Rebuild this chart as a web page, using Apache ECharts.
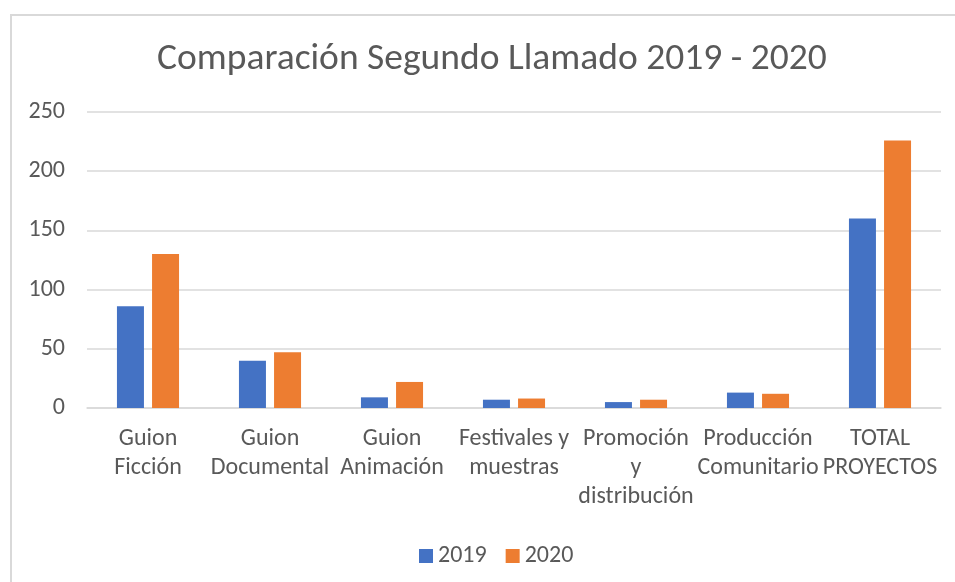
<!DOCTYPE html>
<html>
<head>
<meta charset="utf-8">
<script src="https://cdn.jsdelivr.net/npm/echarts@6/dist/echarts.min.js"></script>
<style>
  html, body { margin: 0; padding: 0; background: #fff; }
  #frame {
    position: absolute; left: 10px; top: 14px; width: 960px; height: 600px;
    border-top: 2px solid #d9d9d9; border-left: 2px solid #d9d9d9;
  }
  #chart { position: absolute; left: 0; top: 0; width: 955px; height: 582px; }
</style>
</head>
<body>
<div id="frame"></div>
<div id="chart"></div>
<script>
    const categories = ['Guion\nFicción', 'Guion\nDocumental', 'Guion\nAnimación', 'Festivales y\nmuestras',
        'Promoción\ny\ndistribución', 'Producción\nComunitario', 'TOTAL\nPROYECTOS'];
    const values2019 = [86, 40, 9, 7, 5, 13, 160];
    const values2020 = [130, 47, 22, 8, 7, 12, 226];
    const yTicks = [0, 50, 100, 150, 200, 250];

    const font = 'Carlito, "Liberation Sans Narrow", "Open Sans", sans-serif';
    const chart = echarts.init(document.getElementById('chart'));
    chart.setOption({
        animation: false,
        textStyle: {fontFamily: font},
        title: {
            text: 'Comparación Segundo Llamado 2019 - 2020',
            left: 152, top: 36,
            textStyle: {fontSize: 37.5, fontWeight: 'normal', color: '#595959', fontFamily: font}
        },
        legend: {
            top: 539, left: 414,
            itemWidth: 14, itemHeight: 14, itemGap: 19,
            icon: 'rect',
            textStyle: {fontSize: 24, color: '#595959', fontFamily: font}
        },
        grid: {left: 87, right: 14, top: 112, bottom: 174},
        xAxis: {
            type: 'category',
            data: categories,
            axisLine: {lineStyle: {color: '#d9d9d9', width: 1.5}},
            axisTick: {show: false},
            axisLabel: {interval: 0, fontSize: 24, color: '#595959', lineHeight: 29, margin: 16, fontFamily: font}
        },
        yAxis: {
            type: 'value',
            min: yTicks[0], max: yTicks[yTicks.length - 1], interval: 50,
            axisLine: {show: false},
            axisTick: {show: false},
            splitLine: {lineStyle: {color: '#d9d9d9', width: 1.5}},
            axisLabel: {fontSize: 24, color: '#595959', margin: 22, fontFamily: font}
        },
        series: [
            {name: '2019', type: 'bar', data: values2019, barWidth: 27, barGap: '30%',
                itemStyle: {color: '#4472c4'}},
            {name: '2020', type: 'bar', data: values2020, barWidth: 27,
                itemStyle: {color: '#ed7d31'}}
        ]
    });
</script>
</body>
</html>
